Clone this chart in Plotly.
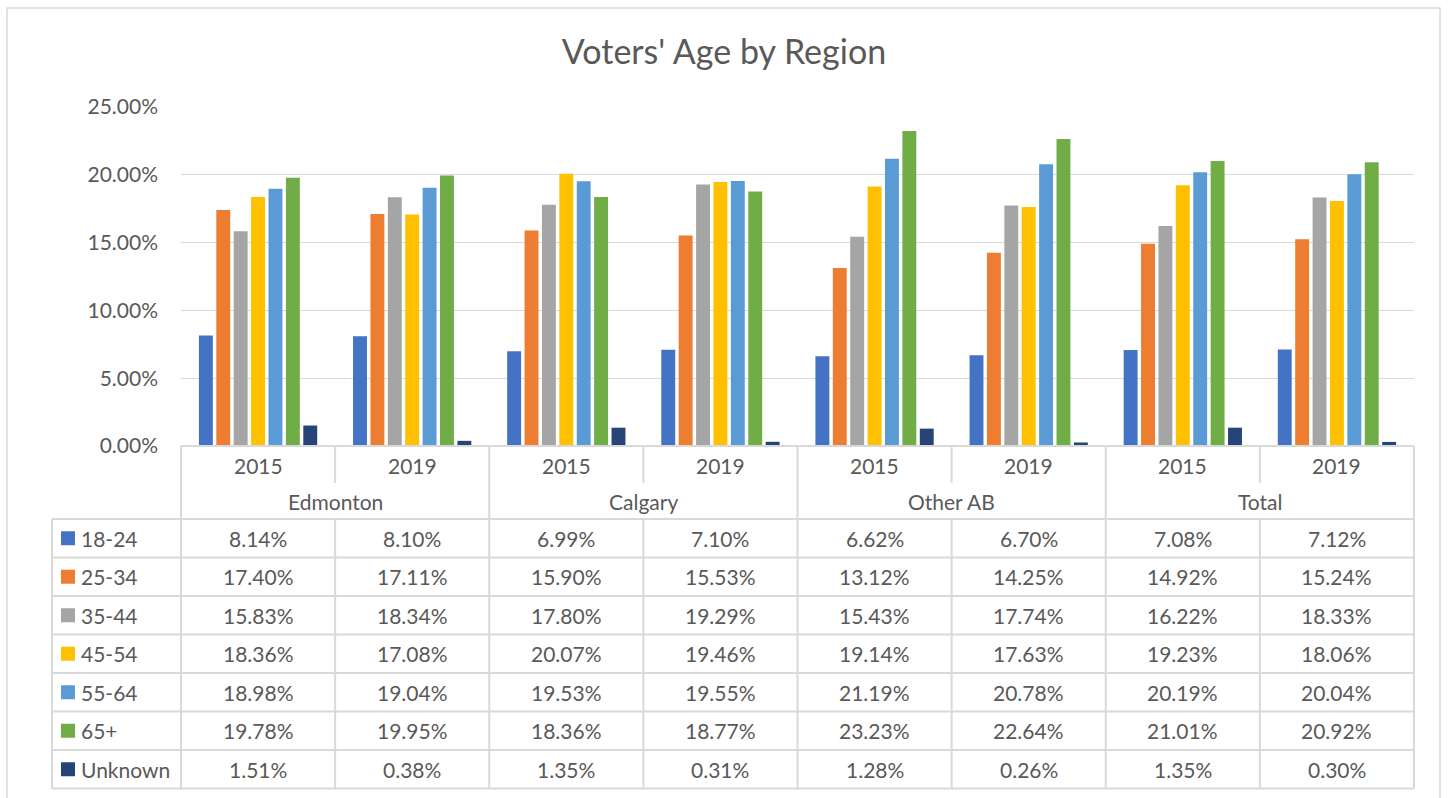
import plotly.graph_objects as go

# ---------------- data ----------------
regions = ["Edmonton", "Calgary", "Other AB", "Total"]
years = ["2015", "2019"]
series_names = ["18-24", "25-34", "35-44", "45-54", "55-64", "65+", "Unknown"]
colors = ["#4472C4", "#ED7D31", "#A5A5A5", "#FFC000", "#5B9BD5", "#70AD47", "#264478"]

v_18_24 = [8.14, 8.10, 6.99, 7.10, 6.62, 6.70, 7.08, 7.12]
v_25_34 = [17.40, 17.11, 15.90, 15.53, 13.12, 14.25, 14.92, 15.24]
v_35_44 = [15.83, 18.34, 17.80, 19.29, 15.43, 17.74, 16.22, 18.33]
v_45_54 = [18.36, 17.08, 20.07, 19.46, 19.14, 17.63, 19.23, 18.06]
v_55_64 = [18.98, 19.04, 19.53, 19.55, 21.19, 20.78, 20.19, 20.04]
v_65p = [19.78, 19.95, 18.36, 18.77, 23.23, 22.64, 21.01, 20.92]
v_unknown = [1.51, 0.38, 1.35, 0.31, 1.28, 0.26, 1.35, 0.30]

series_values = [v_18_24, v_25_34, v_35_44, v_45_54, v_55_64, v_65p, v_unknown]

# ---------------- layout geometry (pixels) ----------------
W, H = 1448, 798
L, R, T, B = 181, 1414, 107, 446
PW, PH = R - L, B - T
FONT = "Lato, Carlito, Calibri, sans-serif"
TXT = "#595959"
GRID = "#d9d9d9"
FS = 21

def fx(px):
    return (px - L) / PW

def fy(py):
    return (B - py) / PH

xcats = [f"{r} {y}" for r in regions for y in years]
ncol = len(xcats)
colw = PW / ncol

fig = go.Figure()
for name, vals, col in zip(series_names, series_values, colors):
    fig.add_trace(go.Bar(
        x=xcats, y=[v / 100 for v in vals], name=name,
        marker=dict(color=col, line=dict(width=0)),
        hovertemplate="%{x}<br>" + name + ": %{y:.2%}<extra></extra>",
    ))

shapes = []
annotations = []

def hline(y, x0, x1, w=2):
    shapes.append(dict(type="line", xref="paper", yref="paper",
                       x0=fx(x0), x1=fx(x1), y0=fy(y), y1=fy(y),
                       line=dict(color=GRID, width=w)))

def vline(x, y0, y1, w=2):
    shapes.append(dict(type="line", xref="paper", yref="paper",
                       x0=fx(x), x1=fx(x), y0=fy(y0), y1=fy(y1),
                       line=dict(color=GRID, width=w)))

year_row_mid = 465
region_row_mid = 501
region_row_bottom = 519
row_h = 38.5
table_left = 52
nrows = len(series_names)
table_bottom = region_row_bottom + nrows * row_h

# outer chart border
shapes.append(dict(type="rect", xref="paper", yref="paper",
                   x0=fx(7), x1=fx(1440), y0=fy(8), y1=fy(805),
                   line=dict(color=GRID, width=1.5), fillcolor="rgba(0,0,0,0)"))

# table lines
hline(B, L, R)
for k in range(ncol + 1):
    x = L + k * colw
    if k % 2 == 1:
        vline(x, B, 483)
        vline(x, region_row_bottom, table_bottom)
    else:
        vline(x, B, table_bottom)
for i in range(nrows + 1):
    hline(region_row_bottom + i * row_h, table_left, R)
vline(table_left, region_row_bottom, table_bottom)

# year and region labels
for k, cat in enumerate(xcats):
    annotations.append(dict(xref="paper", yref="paper", x=fx(L + (k + 0.5) * colw), y=fy(year_row_mid),
                            text=years[k % 2], showarrow=False, xanchor="center", yanchor="middle",
                            font=dict(family=FONT, size=FS, color=TXT)))
for r, reg in enumerate(regions):
    annotations.append(dict(xref="paper", yref="paper", x=fx(L + (2 * r + 1) * colw), y=fy(region_row_mid),
                            text=reg, showarrow=False, xanchor="center", yanchor="middle",
                            font=dict(family=FONT, size=FS, color=TXT)))

# data rows
for i, (name, vals, col) in enumerate(zip(series_names, series_values, colors)):
    cy = region_row_bottom + (i + 0.5) * row_h
    shapes.append(dict(type="rect", xref="paper", yref="paper",
                       x0=fx(61), x1=fx(75), y0=fy(cy - 7), y1=fy(cy + 7),
                       line=dict(width=0), fillcolor=col))
    annotations.append(dict(xref="paper", yref="paper", x=fx(79), y=fy(cy),
                            text=name, showarrow=False, xanchor="left", yanchor="middle",
                            font=dict(family=FONT, size=FS, color=TXT)))
    for k, v in enumerate(vals):
        annotations.append(dict(xref="paper", yref="paper", x=fx(L + (k + 0.5) * colw), y=fy(cy),
                                text=f"{v:.2f}%", showarrow=False, xanchor="center", yanchor="middle",
                                font=dict(family=FONT, size=FS, color=TXT)))

fig.update_layout(
    width=W, height=H,
    margin=dict(l=L, r=W - R, t=T, b=H - B, pad=0),
    paper_bgcolor="white", plot_bgcolor="white",
    title=dict(text="Voters' Age by Region", x=0.5, xanchor="center", y=1 - 52 / H, yanchor="middle",
               font=dict(family=FONT, size=34, color=TXT)),
    font=dict(family=FONT, size=FS, color=TXT),
    showlegend=False,
    barmode="group", bargap=0.21, bargroupgap=0.2,
    xaxis=dict(type="category", range=[-0.5, ncol - 0.5], showticklabels=False,
               showgrid=False, zeroline=False, showline=False, ticks=""),
    yaxis=dict(range=[0, 0.25], dtick=0.05, tick0=0, tickformat=".2%",
               showgrid=True, gridcolor=GRID, gridwidth=1, zeroline=False, showline=False,
               ticks="", ticklabelstandoff=22,
               tickfont=dict(family=FONT, size=FS, color=TXT)),
    shapes=shapes, annotations=annotations,
)

fig.write_html("out.html", config={"displayModeBar": False},
               post_script="document.body.style.margin='0';")
